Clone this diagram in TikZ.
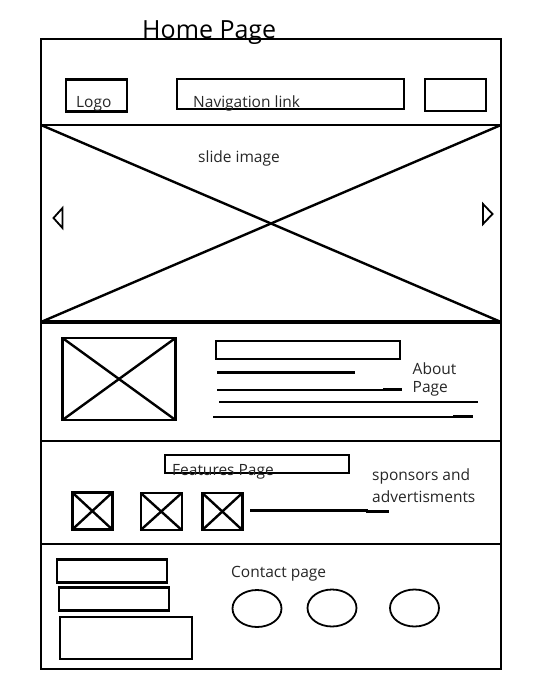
\documentclass[tikz,border=0pt]{standalone}
\usepackage{fontspec}
\setmainfont{Open Sans}
\usetikzlibrary{shapes.geometric}
\begin{document}
\begin{tikzpicture}[x=1pt,y=-1pt,
  box/.style={draw, line width=2.4pt, inner sep=0pt, outer sep=0pt},
  oval/.style={draw, line width=1.8pt, ellipse, inner sep=0pt, outer sep=0pt, minimum width=49pt, minimum height=37pt},
  txt/.style={inner sep=0pt, anchor=west, yshift=-1.8pt, font=\fontsize{15.5}{18}\selectfont, text=black!85},
  bar/.style={line width=2.6pt},
  cross/.style={line width=2.4pt}]
\useasboundingbox (0,0) rectangle (546,677);

% page frame and title
\node[box, minimum width=460pt, minimum height=630pt] (page) at (271,354) {};
\node[inner sep=0pt, anchor=base west, font=\fontsize{25}{28}\selectfont] (title) at (142,38) {Home Page};

% header
\node[box, minimum width=61pt, minimum height=32pt] (logo) at (96.5,95.5) {};
\node[txt] (logotxt) at (76,102) {Logo};
\node[box, minimum width=227pt, minimum height=30pt] (nav) at (290.5,94) {};
\node[txt] (navtxt) at (193,102) {Navigation link};
\node[box, minimum width=61pt, minimum height=32pt] (btn) at (455.5,95) {};

% slider
\node[box, minimum width=460pt, minimum height=197pt] (slide) at (271,223.5) {};
\draw[line width=3.4pt] (slide.south west) -- (slide.south east);
\draw[cross] (slide.north west) -- (slide.south east);
\draw[cross] (slide.south west) -- (slide.north east);
\node[txt] (slidetxt) at (198,156.5) {slide image};
\coordinate (prevtip) at (53.5,218);
\coordinate (nexttip) at (492.5,214);
\draw[line width=1.8pt, line join=miter] (prevtip) -- (62.5,208) -- (62.5,228) -- cycle;
\draw[line width=1.8pt, line join=miter] (nexttip) -- (483,204) -- (483,224) -- cycle;

% about section
\node[box, minimum width=460pt, minimum height=119pt] (about) at (271,381.5) {};
\node[box, minimum width=113pt, minimum height=82pt] (aboutimg) at (119,379) {};
\draw[cross] (aboutimg.north west) -- (aboutimg.south east);
\draw[cross] (aboutimg.south west) -- (aboutimg.north east);
\node[box, minimum width=184pt, minimum height=18pt] (abouthead) at (308,350) {};
\coordinate (l1a) at (217,372.5);  \coordinate (l1b) at (355,372.5);
\coordinate (l2a) at (217,390);    \coordinate (l2b) at (385,390);
\coordinate (l2c) at (383,389.5);  \coordinate (l2d) at (402,389.5);
\coordinate (l3a) at (219,402);    \coordinate (l3b) at (478,402);
\coordinate (l4a) at (213,417);    \coordinate (l4b) at (455,417);
\coordinate (l4c) at (453,416.5);  \coordinate (l4d) at (473,416.5);
\draw[bar] (l1a) -- (l1b);
\draw[bar] (l2a) -- (l2b);
\draw[bar] (l2c) -- (l2d);
\draw[bar] (l3a) -- (l3b);
\draw[bar] (l4a) -- (l4b);
\draw[bar] (l4c) -- (l4d);
\node[txt] (abouttxt1) at (412.5,366.5) {About};
\node[txt] (abouttxt2) at (412.5,387.5) {Page};

% features section
\node[box, minimum width=460pt, minimum height=103pt] (features) at (271,492.5) {};
\node[box, minimum width=184pt, minimum height=18pt] (feathead) at (257,464) {};
\node[txt] (feattxt) at (172,470.5) {Features Page};
\node[box, minimum width=40pt, minimum height=37pt] (f1) at (92.3,511) {};
\node[box, minimum width=41pt, minimum height=37pt] (f2) at (161.2,511.5) {};
\node[box, minimum width=40pt, minimum height=37pt] (f3) at (222.3,511.5) {};
\foreach \f in {f1,f2,f3}{
  \draw[cross] (\f.north west) -- (\f.south east);
  \draw[cross] (\f.south west) -- (\f.north east);
}
\coordinate (fla) at (250,510.5); \coordinate (flb) at (368,510.5);
\coordinate (flc) at (366,511.7); \coordinate (fld) at (389,511.7);
\draw[bar] (fla) -- (flb);
\draw[bar] (flc) -- (fld);
\node[txt] (sponsor1) at (372,475) {sponsors and};
\node[txt] (sponsor2) at (372,495) {advertisments};

% contact section
\node[box, minimum width=110pt, minimum height=23pt] (ca) at (112,571) {};
\node[box, minimum width=110pt, minimum height=23pt] (cb) at (114,599) {};
\node[box, minimum width=132pt, minimum height=42pt] (cc) at (126,638) {};
\node[txt] (contacttxt) at (231,571.5) {Contact page};
\node[oval] (s1) at (257,608.5) {};
\node[oval] (s2) at (332,608) {};
\node[oval] (s3) at (414.5,608) {};
\end{tikzpicture}
\end{document}
